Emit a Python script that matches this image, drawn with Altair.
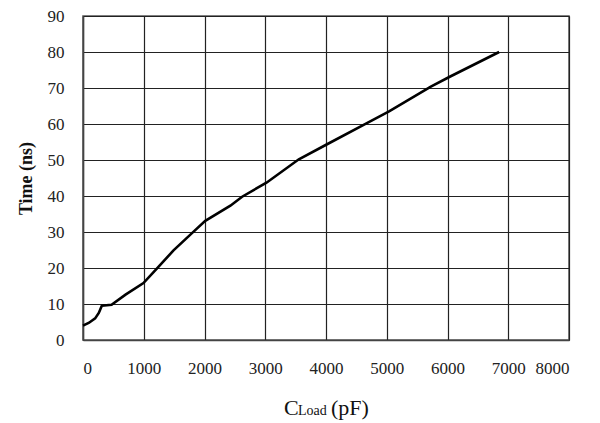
import altair as alt
import pandas as pd

# Curve
cload_pf = [0, 100, 200, 260, 310, 470, 700, 995, 1215, 1490, 1794, 2013,
            2426, 2619, 3020, 3553, 4010, 4681, 5038, 5726, 6045, 6850]
time_ns = [4.0, 4.8, 6.0, 7.5, 9.5, 9.8, 12.6, 15.8, 19.8, 24.9, 29.7, 33.1,
           37.3, 39.8, 43.7, 50.2, 54.3, 60.3, 63.5, 70.4, 73.2, 80.0]

x_ticks = [0, 1000, 2000, 3000, 4000, 5000, 6000, 7000, 8000]
y_ticks = [0, 10, 20, 30, 40, 50, 60, 70, 80, 90]

df = pd.DataFrame({"cload": cload_pf, "time": time_ns})

FONT = "Liberation Serif"

line = alt.Chart(df).mark_line(color="black", strokeWidth=2.6).encode(
    x=alt.X("cload:Q",
            scale=alt.Scale(domain=[0, 8000], nice=False),
            axis=alt.Axis(values=x_ticks, format="d", title=None, grid=True,
                          gridColor="#222222", gridWidth=1.2,
                          domainColor="#444444", domainWidth=1.5,
                          ticks=True, tickSize=0, labelFont=FONT, labelFontSize=17,
                          labelColor="#222222", labelPadding=20)),
    y=alt.Y("time:Q",
            scale=alt.Scale(domain=[0, 90], nice=False),
            axis=alt.Axis(values=y_ticks, format="d", title="Time (ns)", grid=True,
                          gridColor="#222222", gridWidth=1.2,
                          domainColor="#444444", domainWidth=1.5,
                          ticks=True, tickSize=0, labelFont=FONT, labelFontSize=17,
                          labelColor="#222222", labelPadding=19,
                          titleFont=FONT, titleFontSize=18, titleFontWeight="bold",
                          titleColor="#111111", titlePadding=12)),
)

t_c = alt.Chart(pd.DataFrame({"t": ["C"]})).mark_text(
    font=FONT, fontSize=22, align="left", baseline="alphabetic", color="#111111").encode(
    x=alt.value(201), y=alt.value(399), text="t:N")
t_load = alt.Chart(pd.DataFrame({"t": ["Load"]})).mark_text(
    font=FONT, fontSize=14, align="left", baseline="alphabetic", color="#111111").encode(
    x=alt.value(215), y=alt.value(399), text="t:N")
t_pf = alt.Chart(pd.DataFrame({"t": ["(pF)"]})).mark_text(
    font=FONT, fontSize=22, align="left", baseline="alphabetic", color="#111111").encode(
    x=alt.value(248), y=alt.value(399), text="t:N")

chart = alt.layer(line, t_c, t_load, t_pf).properties(
    width=486, height=324,
    autosize=alt.AutoSizeParams(type="none"),
    padding={"left": 75, "top": 8, "right": 20, "bottom": 85},
    background="white",
).configure_view(stroke="#555555", strokeWidth=1.5)

chart.save("out.html", embed_options={"renderer": "svg", "actions": False})
